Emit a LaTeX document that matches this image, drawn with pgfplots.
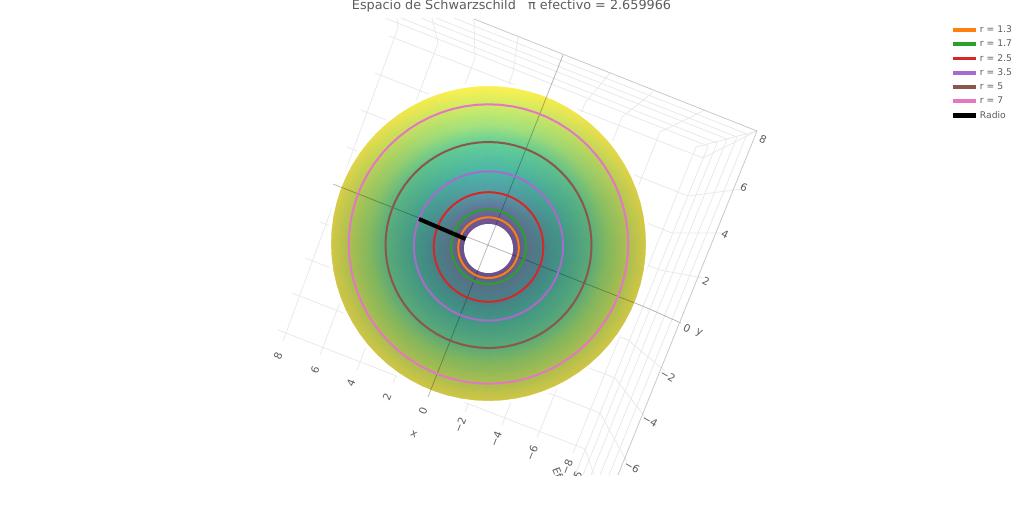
\documentclass[border=0pt]{standalone}
\usepackage{pgfplots}
\usepackage{pgfplotstable}
\usepackage{fontspec}
\setmainfont{DejaVu Sans}
\pgfplotsset{compat=1.18}
\definecolor{gr}{HTML}{E9E9E9}
\definecolor{zr}{HTML}{B4B4B4}
\definecolor{ed}{HTML}{C8C8C8}
\definecolor{tx}{HTML}{5C5C5C}
\definecolor{c1}{HTML}{FF7F0E}
\definecolor{c2}{HTML}{2CA02C}
\definecolor{c3}{HTML}{D62728}
\definecolor{c4}{HTML}{A86BCB}
\definecolor{c5}{HTML}{8C564B}
\definecolor{c6}{HTML}{E377C2}
% radius (px), centre y (px), and colour on top / at the bottom of each ring of the surface
\def\rarr{{24,30,37,55,75,103,120,140,158.5}}
\def\cyarr{{248.5,247.7,246.6,247,246,245,244.5,244,243.5}}
\def\tra{{112,110,100,85,75,100,165,210,254}}
\def\tga{{82,92,112,155,182,207,226,236,241}}
\def\tba{{148,150,152,165,165,150,125,100,78}}
\def\bra{{108,100,90,70,65,90,132,170,210}}
\def\bga{{78,85,110,130,150,170,182,190,198}}
\def\bba{{140,140,135,135,130,120,92,80,68}}
\newcommand{\mixc}[3]{\pgfmathsetmacro\pa{#1[\ii]}\pgfmathsetmacro\pb{#2[\ii]}\pgfmathsetmacro#3{(\pa*\ww+\pb*(1-\ww))/255}}
\pgfplotstableread[row sep=\\]{
t i w\\
0 0 .03\\10 0 .1\\20 0 .2\\30 0 .35\\40 0 .5\\50 0 .65\\60 0 .8\\70 0 .9\\80 0 1\\90 0 1\\100 0 1\\110 0 .9\\120 0 .8\\130 0 .65\\140 0 .5\\150 0 .35\\160 0 .2\\170 0 .1\\180 0 .03\\190 0 0\\200 0 0\\210 0 0\\220 0 0\\230 0 0\\240 0 0\\250 0 0\\260 0 0\\270 0 0\\280 0 0\\290 0 0\\300 0 0\\310 0 0\\320 0 0\\330 0 0\\340 0 0\\350 0 0\\360 0 .03\\
0 1 .03\\10 1 .1\\20 1 .2\\30 1 .35\\40 1 .5\\50 1 .65\\60 1 .8\\70 1 .9\\80 1 1\\90 1 1\\100 1 1\\110 1 .9\\120 1 .8\\130 1 .65\\140 1 .5\\150 1 .35\\160 1 .2\\170 1 .1\\180 1 .03\\190 1 0\\200 1 0\\210 1 0\\220 1 0\\230 1 0\\240 1 0\\250 1 0\\260 1 0\\270 1 0\\280 1 0\\290 1 0\\300 1 0\\310 1 0\\320 1 0\\330 1 0\\340 1 0\\350 1 0\\360 1 .03\\
0 2 .03\\10 2 .1\\20 2 .2\\30 2 .35\\40 2 .5\\50 2 .65\\60 2 .8\\70 2 .9\\80 2 1\\90 2 1\\100 2 1\\110 2 .9\\120 2 .8\\130 2 .65\\140 2 .5\\150 2 .35\\160 2 .2\\170 2 .1\\180 2 .03\\190 2 0\\200 2 0\\210 2 0\\220 2 0\\230 2 0\\240 2 0\\250 2 0\\260 2 0\\270 2 0\\280 2 0\\290 2 0\\300 2 0\\310 2 0\\320 2 0\\330 2 0\\340 2 0\\350 2 0\\360 2 .03\\
0 3 .03\\10 3 .1\\20 3 .2\\30 3 .35\\40 3 .5\\50 3 .65\\60 3 .8\\70 3 .9\\80 3 1\\90 3 1\\100 3 1\\110 3 .9\\120 3 .8\\130 3 .65\\140 3 .5\\150 3 .35\\160 3 .2\\170 3 .1\\180 3 .03\\190 3 0\\200 3 0\\210 3 0\\220 3 0\\230 3 0\\240 3 0\\250 3 0\\260 3 0\\270 3 0\\280 3 0\\290 3 0\\300 3 0\\310 3 0\\320 3 0\\330 3 0\\340 3 0\\350 3 0\\360 3 .03\\
0 4 .03\\10 4 .1\\20 4 .2\\30 4 .35\\40 4 .5\\50 4 .65\\60 4 .8\\70 4 .9\\80 4 1\\90 4 1\\100 4 1\\110 4 .9\\120 4 .8\\130 4 .65\\140 4 .5\\150 4 .35\\160 4 .2\\170 4 .1\\180 4 .03\\190 4 0\\200 4 0\\210 4 0\\220 4 0\\230 4 0\\240 4 0\\250 4 0\\260 4 0\\270 4 0\\280 4 0\\290 4 0\\300 4 0\\310 4 0\\320 4 0\\330 4 0\\340 4 0\\350 4 0\\360 4 .03\\
0 5 .03\\10 5 .1\\20 5 .2\\30 5 .35\\40 5 .5\\50 5 .65\\60 5 .8\\70 5 .9\\80 5 1\\90 5 1\\100 5 1\\110 5 .9\\120 5 .8\\130 5 .65\\140 5 .5\\150 5 .35\\160 5 .2\\170 5 .1\\180 5 .03\\190 5 0\\200 5 0\\210 5 0\\220 5 0\\230 5 0\\240 5 0\\250 5 0\\260 5 0\\270 5 0\\280 5 0\\290 5 0\\300 5 0\\310 5 0\\320 5 0\\330 5 0\\340 5 0\\350 5 0\\360 5 .03\\
0 6 .03\\10 6 .1\\20 6 .2\\30 6 .35\\40 6 .5\\50 6 .65\\60 6 .8\\70 6 .9\\80 6 1\\90 6 1\\100 6 1\\110 6 .9\\120 6 .8\\130 6 .65\\140 6 .5\\150 6 .35\\160 6 .2\\170 6 .1\\180 6 .03\\190 6 0\\200 6 0\\210 6 0\\220 6 0\\230 6 0\\240 6 0\\250 6 0\\260 6 0\\270 6 0\\280 6 0\\290 6 0\\300 6 0\\310 6 0\\320 6 0\\330 6 0\\340 6 0\\350 6 0\\360 6 .03\\
0 7 .03\\10 7 .1\\20 7 .2\\30 7 .35\\40 7 .5\\50 7 .65\\60 7 .8\\70 7 .9\\80 7 1\\90 7 1\\100 7 1\\110 7 .9\\120 7 .8\\130 7 .65\\140 7 .5\\150 7 .35\\160 7 .2\\170 7 .1\\180 7 .03\\190 7 0\\200 7 0\\210 7 0\\220 7 0\\230 7 0\\240 7 0\\250 7 0\\260 7 0\\270 7 0\\280 7 0\\290 7 0\\300 7 0\\310 7 0\\320 7 0\\330 7 0\\340 7 0\\350 7 0\\360 7 .03\\
0 8 .03\\10 8 .1\\20 8 .2\\30 8 .35\\40 8 .5\\50 8 .65\\60 8 .8\\70 8 .9\\80 8 1\\90 8 1\\100 8 1\\110 8 .9\\120 8 .8\\130 8 .65\\140 8 .5\\150 8 .35\\160 8 .2\\170 8 .1\\180 8 .03\\190 8 0\\200 8 0\\210 8 0\\220 8 0\\230 8 0\\240 8 0\\250 8 0\\260 8 0\\270 8 0\\280 8 0\\290 8 0\\300 8 0\\310 8 0\\320 8 0\\330 8 0\\340 8 0\\350 8 0\\360 8 .03\\
}\surfT
% cell lookups: radius, centre and colour of each vertex
\pgfplotstablecreatecol[create col/assign/.code={%
 \getthisrow{i}\ii\pgfmathsetmacro\vv{\rarr[\ii]}\pgfkeyslet{/pgfplots/table/create col/next content}\vv}]{R}{\surfT}
\pgfplotstablecreatecol[create col/assign/.code={%
 \getthisrow{i}\ii\pgfmathsetmacro\vv{\cyarr[\ii]}\pgfkeyslet{/pgfplots/table/create col/next content}\vv}]{cy}{\surfT}
\pgfplotstablecreatecol[create col/assign/.code={%
 \getthisrow{i}\ii\getthisrow{w}\ww
 \mixc\tra\bra\vr\mixc\tga\bga\vg\mixc\tba\bba\vb
 \edef\vv{\vr,\vg,\vb}\pgfkeyslet{/pgfplots/table/create col/next content}\vv}]{col}{\surfT}
\pgfplotstableread[row sep=\\]{
t\\0\\5\\10\\15\\20\\25\\30\\35\\40\\45\\50\\55\\60\\65\\70\\75\\80\\85\\90\\95\\100\\105\\110\\115\\120\\125\\130\\135\\140\\145\\150\\155\\160\\165\\170\\175\\180\\185\\190\\195\\200\\205\\210\\215\\220\\225\\230\\235\\240\\245\\250\\255\\260\\265\\270\\275\\280\\285\\290\\295\\300\\305\\310\\315\\320\\325\\330\\335\\340\\345\\350\\355\\360\\
}\ringT
\pgfplotstablecreatecol[create col/copy=t]{d}{\ringT}
\newcommand{\gl}[2][gr]{\addplot[#1,line width=.8pt,forget plot] coordinates {#2};}
\newcommand{\edgeline}[3]{\addplot[white,line width=#3pt,forget plot] table[x expr=488.5+#1*cos(\thisrow{t}),y expr=#2-#1*sin(\thisrow{t})] {\ringT};}
\newcommand{\ring}[4]{\addplot[#1,line width=2pt,legend image post style={line width=3.6pt}] table[x expr=488.5+#2*cos(\thisrow{t}),y expr=#3-#2*sin(\thisrow{t})] {\ringT};\addlegendentry{#4}}
\newcommand{\lab}[4][0]{\node[text=tx,font=\fontsize{10.5}{12}\selectfont,rotate=#1] at (axis cs:#2,#3) {#4};}
\begin{document}
\begin{tikzpicture}
\useasboundingbox (0,0) rectangle (1024pt,505pt);
\begin{axis}[at={(0,0)},anchor=south west,scale only axis,width=1024pt,height=505pt,xmin=0,xmax=1024,ymin=0,ymax=505,y dir=reverse,hide axis,clip=false,
 legend image code/.code={\draw[#1] (0pt,0pt) -- (23pt,0pt);},
 legend style={at={(axis cs:950,24.3)},anchor=north west,draw=none,fill=none,font=\fontsize{9.2}{11}\selectfont,text=tx,row sep=3.6pt,inner sep=0pt,nodes={inner sep=1.2pt}},
 legend cell align=left]
% x grid lines: tick, floor edge, top edge
\gl{(283,341)(398,28)(397,18)}
\gl{(320,355)(438,43)(432,18)}
\gl{(357,370)(475,58)(474,19)}
\gl{(393,383)(513,73)(518,37)}
\gl{(465,412)(585,103)(610,73)}
\gl{(502,425)(622,117)(653,92)}
\gl{(537,438)(660,132)(705,110)}
\gl{(573,453)(696,147)(757,131)}
% y grid lines
\gl{(389,36)(703,158)(757,131)}
\gl{(375,73)(688,196)(742,189)}
\gl{(361,110)(672,233)(723,233)}
\gl{(347,147)(660,270)(703,278)}
\gl{(320,222)(628,340)(665,371)}
\gl{(305,258)(615,378)(645,417)}
\gl{(292,293)(600,413)(627,462)}
\gl{(278,330)(585,449)(594,475)}
% z grid lines on the two walls
\gl{(385,18)(708,146)(575,475)}
\gl{(401,18)(717,143)(583,475)}
\gl{(421,18)(727,139)(591,475)}
\gl{(436,18)(737,137)(600,475)}
\gl{(454,18)(747,134)(609,475)}
% surface
\addplot[surf,shader=interp,forget plot,mesh/rows=9,mesh/color input=explicit,point meta=explicit symbolic]
 table[x expr={488.5+\thisrow{R}*cos(\thisrow{t})},y expr={\thisrow{cy}-\thisrow{R}*sin(\thisrow{t})},meta=col] {\surfT};
% clean edges of the surface
\edgeline{159.2}{243.5}{3.4}
\edgeline{23.6}{248.5}{1.8}
% zero lines and edges, seen faintly through the surface
\addplot[black,opacity=.28,line width=.8pt,forget plot] coordinates {(428,397)(550,88)(563,55)};
\addplot[black,opacity=.28,line width=.8pt,forget plot] coordinates {(333,184)(645,307)(681,323)};
\gl[ed]{(474,19)(757,131)(618,475)}
% rings
\ring{c1}{30.3}{247.7}{r = 1.3}
\ring{c2}{37.3}{246.6}{r = 1.7}
\ring{c3}{54.8}{247}{r = 2.5}
\ring{c4}{74.6}{246}{r = 3.5}
\ring{c5}{103}{245}{r = 5}
\ring{c6}{139.7}{244}{r = 7}
\addplot[black,line width=4pt,legend image post style={line width=5.5pt}] coordinates {(419,219)(465.5,239)};
\addlegendentry{Radio}
% tick labels
\lab[68]{278}{356}{8}\lab[68]{315}{370}{6}\lab[68]{351}{383}{4}\lab[68]{387}{397}{2}\lab[68]{423}{411}{0}
\lab[68]{460}{425}{−2}\lab[68]{496}{439}{−4}\lab[68]{532}{453}{−6}\lab[68]{567}{467}{−8}
\lab[-25]{763}{139}{8}\lab[-25]{744}{187}{6}\lab[-25]{725}{234}{4}\lab[-25]{706}{281}{2}\lab[-25]{687}{328}{0}
\lab[-30]{668}{376}{−2}\lab[-30]{650}{421}{−4}\lab[-30]{632}{467}{−6}
\lab[-25]{699}{333}{y}\lab[-25]{414}{434}{x}
\lab[-68]{559}{476}{Efe}\lab[68]{578}{475}{5}
\fill[white] (axis cs:520,475.5) rectangle (axis cs:700,505);
\node[text=tx,font=\fontsize{12.8}{15}\selectfont] at (axis cs:511.5,6) {Espacio de Schwarzschild\ \ \ π efectivo = 2.659966};
\end{axis}
\end{tikzpicture}
\end{document}
